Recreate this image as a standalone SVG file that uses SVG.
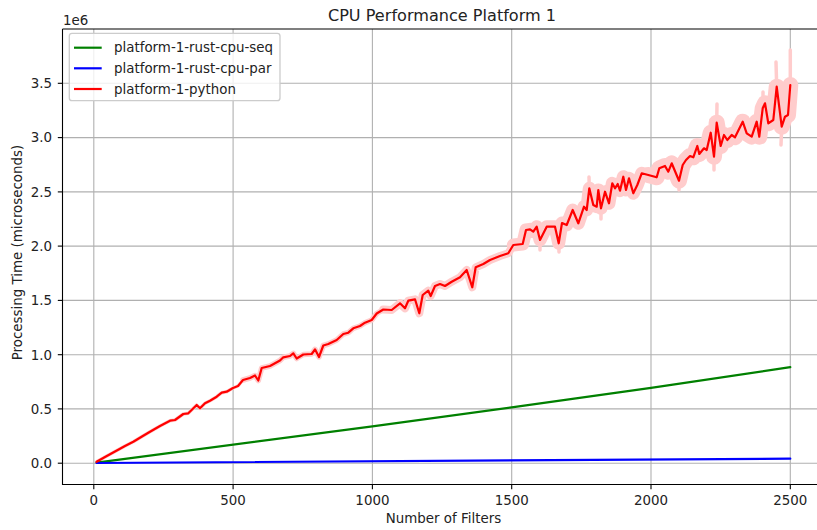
<svg xmlns="http://www.w3.org/2000/svg" width="817" height="530" viewBox="0 0 817 530">
  <style>
    text { font-family: "DejaVu Sans", "Liberation Sans", sans-serif; fill: #222; }
    .tick { font-size: 13.4px; }
    .label { font-size: 13.4px; }
    .title { font-size: 16.1px; }
    .grid line { stroke: #b0b0b0; stroke-width: 1.1; }
    .spine { stroke: #000; stroke-width: 1.1; fill: none; }
    .tickmark { stroke: #000; stroke-width: 1.1; }
    .series { fill: none; stroke-width: 2.2; stroke-linejoin: round; stroke-linecap: round; }
    .band { fill: none; stroke: #ffcccc; stroke-linejoin: round; stroke-linecap: round; }
  </style>
  <defs>
    <clipPath id="axes-clip">
      <rect x="62.5" y="29" width="760" height="455.5"/>
    </clipPath>
  </defs>

  <rect x="0" y="0" width="817" height="530" fill="#fff"/>

  <!-- title -->
  <text class="title" x="442" y="21" text-anchor="middle">CPU Performance Platform 1</text>

  <!-- grid -->
  <g class="grid" clip-path="url(#axes-clip)">
    <line x1="93.8" y1="29" x2="93.8" y2="484.5"/>
    <line x1="233.1" y1="29" x2="233.1" y2="484.5"/>
    <line x1="372.4" y1="29" x2="372.4" y2="484.5"/>
    <line x1="511.7" y1="29" x2="511.7" y2="484.5"/>
    <line x1="651" y1="29" x2="651" y2="484.5"/>
    <line x1="790.3" y1="29" x2="790.3" y2="484.5"/>
    <line x1="62.5" y1="463.2" x2="822" y2="463.2"/>
    <line x1="62.5" y1="408.9" x2="822" y2="408.9"/>
    <line x1="62.5" y1="354.7" x2="822" y2="354.7"/>
    <line x1="62.5" y1="300.4" x2="822" y2="300.4"/>
    <line x1="62.5" y1="246.1" x2="822" y2="246.1"/>
    <line x1="62.5" y1="191.9" x2="822" y2="191.9"/>
    <line x1="62.5" y1="137.6" x2="822" y2="137.6"/>
    <line x1="62.5" y1="83.3" x2="822" y2="83.3"/>
  </g>

  <!-- data series -->
  <g id="connectors" clip-path="url(#axes-clip)">
    <!-- python spread band, widening with the filter count -->
    <g id="python-band">
      <polyline class="band" stroke-width="3.5" points="96.6,461.8 105,457 115,451.5 125,446 133.3,441.7 142,436.5 150,431.7 160,426 170,420.7 175,420 183.3,414 188.3,413.3 196.7,405 200,408.3 205,403.3 210,400.7 216.7,396.7 221.7,392.7 226.7,391.7 233,388 238,386 243,380"/>
      <polyline class="band" stroke-width="5.5" points="243,380 250,378 255,375.5 258.3,380.5 261.7,368 270,366 280,360.5 283.3,357.3 290,356 293.3,353.3 296.7,358.5 303.3,354.5 311.7,354 315,349.3 319,357 323.3,345.5 328.3,344 336.7,340 343.3,334 348.3,332.7 353.3,328.3 360,326 365,322.7 371.7,320 376.7,313.5 383.3,309.5"/>
      <polyline class="band" stroke-width="8" points="383.3,309.5 391.7,310 400,303.3 405,308.3 408.3,300.7 415,299.3 419.3,313.3 422.7,295 428.3,290.7 430.7,296 435,286 440,284 445,286 451.7,281.7 460,277.3 466.7,270 472.3,287.3 475.7,267.3 483.3,264 490,260 500,256 508.3,253.3 513.3,245"/>
      <polyline class="band" stroke-width="13" points="513.3,245 522.7,244 526,230 530,229.3 533.3,231.7 536.7,226.7 540,240 546.7,226.7 555,226.7 558.7,243.3 562,223 566.7,225 572.7,210 578.3,223.3 584,206.7 586.7,210 589.3,188.3 593.3,205 596.7,206.7 598.3,190 601,208.3 605,191.7 609,203.3 612.3,183.3 615,188.3 617.7,184 620,190.7 623.3,176.7 626,190 629,178.3 633.3,193.3 637.3,185 641.7,173.3 648.3,175"/>
      <polyline class="band" stroke-width="16" points="648.3,175 656.7,177.3 659.3,168.3 665,166 668.3,171.7 671.7,163.3 679,180.7 682.7,165 686,160 690,156 693.3,157.3 697.3,146 699.3,154 704,148.3 706.7,150 710.7,132.7 714,156.7 716.7,122.7 720.7,146 724,135 727.3,140 731.7,135 735,137.3 742.7,121.7 746.7,133.3 751.7,136.7 756.7,121.7 759.3,136.7 762.7,108.3 765,103.3 768.3,123.3 773.3,120 776.7,86.7 781.7,126.7 785,116.7 788,115 790.3,85"/>
      <path class="band" stroke-width="3.5" d="M776.7,86.7 L776,62 M790.3,85 L790.3,50 M781.7,126.7 L781,145 M763,108 L763,92 M714,156.7 L714,170 M679,180.7 L679,190 M716.7,122.7 L717,104 M710.7,132.7 L711,120 M589.3,188.3 L589,177 M558.7,243.3 L559,252 M540,240 L540,250 M601,208.3 L601,219"/>
    </g>
    <polyline id="series-seq" class="series" stroke="#008000" points="96.6,462.7 372.4,426.3 511.7,407.3 651,387.8 790.3,367.2"/>
    <polyline id="series-par" class="series" stroke="#0000ff" points="96.6,463 790.3,458.7"/>
    <polyline id="series-python" class="series" stroke="#ff0000" points="96.6,461.8 105,457 115,451.5 125,446 133.3,441.7 142,436.5 150,431.7 160,426 170,420.7 175,420 183.3,414 188.3,413.3 196.7,405 200,408.3 205,403.3 210,400.7 216.7,396.7 221.7,392.7 226.7,391.7 233,388 238,386 243,380 250,378 255,375.5 258.3,380.5 261.7,368 270,366 280,360.5 283.3,357.3 290,356 293.3,353.3 296.7,358.5 303.3,354.5 311.7,354 315,349.3 319,357 323.3,345.5 328.3,344 336.7,340 343.3,334 348.3,332.7 353.3,328.3 360,326 365,322.7 371.7,320 376.7,313.5 383.3,309.5 391.7,310 400,303.3 405,308.3 408.3,300.7 415,299.3 419.3,313.3 422.7,295 428.3,290.7 430.7,296 435,286 440,284 445,286 451.7,281.7 460,277.3 466.7,270 472.3,287.3 475.7,267.3 483.3,264 490,260 500,256 508.3,253.3 513.3,245 522.7,244 526,230 530,229.3 533.3,231.7 536.7,226.7 540,240 546.7,226.7 555,226.7 558.7,243.3 562,223 566.7,225 572.7,210 578.3,223.3 584,206.7 586.7,210 589.3,188.3 593.3,205 596.7,206.7 598.3,190 601,208.3 605,191.7 609,203.3 612.3,183.3 615,188.3 617.7,184 620,190.7 623.3,176.7 626,190 629,178.3 633.3,193.3 637.3,185 641.7,173.3 648.3,175 656.7,177.3 659.3,168.3 665,166 668.3,171.7 671.7,163.3 679,180.7 682.7,165 686,160 690,156 693.3,157.3 697.3,146 699.3,154 704,148.3 706.7,150 710.7,132.7 714,156.7 716.7,122.7 720.7,146 724,135 727.3,140 731.7,135 735,137.3 742.7,121.7 746.7,133.3 751.7,136.7 756.7,121.7 759.3,136.7 762.7,108.3 765,103.3 768.3,123.3 773.3,120 776.7,86.7 781.7,126.7 785,116.7 788,115 790.3,85"/>
  </g>

  <!-- spines -->
  <path class="spine" d="M62.5,29 L822,29 M62.5,29 L62.5,484.5 L822,484.5"/>

  <!-- x ticks -->
  <g id="x-axis">
    <g class="tickmark">
      <line x1="93.8" y1="484.5" x2="93.8" y2="489.2"/>
      <line x1="233.1" y1="484.5" x2="233.1" y2="489.2"/>
      <line x1="372.4" y1="484.5" x2="372.4" y2="489.2"/>
      <line x1="511.7" y1="484.5" x2="511.7" y2="489.2"/>
      <line x1="651" y1="484.5" x2="651" y2="489.2"/>
      <line x1="790.3" y1="484.5" x2="790.3" y2="489.2"/>
    </g>
    <text class="tick" x="93.8" y="504.5" text-anchor="middle">0</text>
    <text class="tick" x="233.1" y="504.5" text-anchor="middle">500</text>
    <text class="tick" x="372.4" y="504.5" text-anchor="middle">1000</text>
    <text class="tick" x="511.7" y="504.5" text-anchor="middle">1500</text>
    <text class="tick" x="651" y="504.5" text-anchor="middle">2000</text>
    <text class="tick" x="790.3" y="504.5" text-anchor="middle">2500</text>
    <text class="label" x="443.5" y="522.5" text-anchor="middle">Number of Filters</text>
  </g>

  <!-- y ticks -->
  <g id="y-axis">
    <g class="tickmark">
      <line x1="57.8" y1="463.2" x2="62.5" y2="463.2"/>
      <line x1="57.8" y1="408.9" x2="62.5" y2="408.9"/>
      <line x1="57.8" y1="354.7" x2="62.5" y2="354.7"/>
      <line x1="57.8" y1="300.4" x2="62.5" y2="300.4"/>
      <line x1="57.8" y1="246.1" x2="62.5" y2="246.1"/>
      <line x1="57.8" y1="191.9" x2="62.5" y2="191.9"/>
      <line x1="57.8" y1="137.6" x2="62.5" y2="137.6"/>
      <line x1="57.8" y1="83.3" x2="62.5" y2="83.3"/>
    </g>
    <text class="tick" x="52" y="468" text-anchor="end">0.0</text>
    <text class="tick" x="52" y="413.7" text-anchor="end">0.5</text>
    <text class="tick" x="52" y="359.5" text-anchor="end">1.0</text>
    <text class="tick" x="52" y="305.2" text-anchor="end">1.5</text>
    <text class="tick" x="52" y="250.9" text-anchor="end">2.0</text>
    <text class="tick" x="52" y="196.7" text-anchor="end">2.5</text>
    <text class="tick" x="52" y="142.4" text-anchor="end">3.0</text>
    <text class="tick" x="52" y="88.1" text-anchor="end">3.5</text>
    <text class="tick" x="63" y="25">1e6</text>
    <text class="label" transform="translate(22.3,252.5) rotate(-90)" text-anchor="middle">Processing Time (microseconds)</text>
  </g>

  <!-- legend -->
  <g id="legend">
    <rect x="69.3" y="33.3" width="210.7" height="67.4" rx="2.7" ry="2.7" fill="#fff" fill-opacity="0.8" stroke="#cccccc" stroke-width="1.3"/>
    <g id="legend-seq">
      <line x1="74" y1="47.7" x2="101.7" y2="47.7" stroke="#008000" stroke-width="2.2"/>
      <text class="label" x="114" y="52.4">platform-1-rust-cpu-seq</text>
    </g>
    <g id="legend-par">
      <line x1="74" y1="68.3" x2="101.7" y2="68.3" stroke="#0000ff" stroke-width="2.2"/>
      <text class="label" x="114" y="73">platform-1-rust-cpu-par</text>
    </g>
    <g id="legend-python">
      <line x1="74" y1="89" x2="101.7" y2="89" stroke="#ff0000" stroke-width="2.2"/>
      <text class="label" x="114" y="93.7">platform-1-python</text>
    </g>
  </g>
</svg>
